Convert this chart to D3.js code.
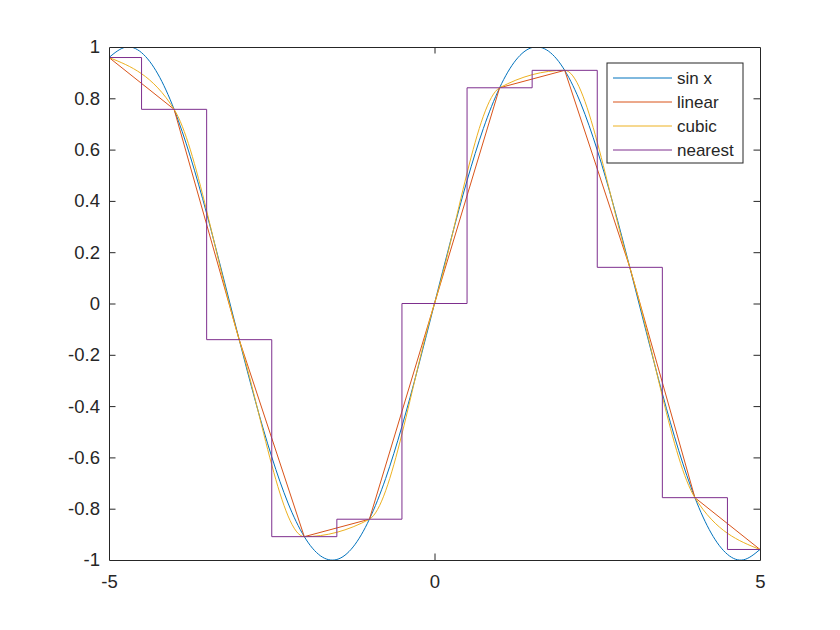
<!DOCTYPE html>
<html>
<head>
<meta charset="utf-8">
<script src="https://cdn.jsdelivr.net/npm/d3@7"></script>
<style>
  body { margin: 0; background: #fff; }
  svg { display: block; font-family: "Liberation Sans", Arial, sans-serif; }
</style>
</head>
<body>
<div class="container"></div>
<script>
// sample points (integer x)
var xs = [-5, -4, -3, -2, -1, 0, 1, 2, 3, 4, 5];
var ys = [0.959, 0.757, -0.141, -0.909, -0.841, 0, 0.841, 0.909, 0.141, -0.757, -0.959];

// the smooth "sin x" curve, read at quarter steps
var fineX = [-5, -4.75, -4.5, -4.25, -4, -3.75, -3.5, -3.25, -3, -2.75, -2.5, -2.25, -2, -1.75, -1.5, -1.25, -1, -0.75, -0.5, -0.25,
             0, 0.25, 0.5, 0.75, 1, 1.25, 1.5, 1.75, 2, 2.25, 2.5, 2.75, 3, 3.25, 3.5, 3.75, 4, 4.25, 4.5, 4.75, 5];
var fineY = [0.959, 0.999, 0.978, 0.895, 0.757, 0.572, 0.351, 0.108, -0.141, -0.382, -0.598, -0.778, -0.909, -0.984, -0.998, -0.949, -0.841, -0.682, -0.479, -0.247,
             0, 0.247, 0.479, 0.682, 0.841, 0.949, 0.998, 0.984, 0.909, 0.778, 0.598, 0.382, 0.141, -0.108, -0.351, -0.572, -0.757, -0.895, -0.978, -0.999, -0.959];

var xTicks = [-5, 0, 5];
var yTicks = [-1, -0.8, -0.6, -0.4, -0.2, 0, 0.2, 0.4, 0.6, 0.8, 1];
var names = ["sin x", "linear", "cubic", "nearest"];
var colors = ["#0072BD", "#D95319", "#EDB120", "#7E2F8E"];

var width = 840, height = 630;
var margin = {top: 47, right: 80, bottom: 70, left: 109};
var iw = width - margin.left - margin.right,
    ih = height - margin.top - margin.bottom,
    tk = 6.5,
    axc = "#262626";

var x = d3.scaleLinear().domain([-5, 5]).range([0, iw]);
var y = d3.scaleLinear().domain([-1, 1]).range([ih, 0]);

var svg = d3.select(".container").append("svg")
    .attr("width", width)
    .attr("height", height);

var g = svg.append("g")
    .attr("transform", "translate(" + margin.left + "," + margin.top + ")");

svg.append("clipPath").attr("id", "clip")
  .append("rect").attr("width", iw).attr("height", ih);

var plot = g.append("g").attr("clip-path", "url(#clip)");

var pts = xs.map(function(d, i) { return [d, ys[i]]; });
var fine = fineX.map(function(d, i) { return [d, fineY[i]]; });

function line(curve) {
  return d3.line().x(function(d) { return x(d[0]); }).y(function(d) { return y(d[1]); }).curve(curve);
}

var series = [
  {data: fine, curve: d3.curveNatural},
  {data: pts, curve: d3.curveLinear},
  {data: pts, curve: d3.curveMonotoneX},
  {data: pts, curve: d3.curveStep}
];

plot.selectAll("path.s").data(series).enter().append("path")
    .attr("class", "s")
    .attr("fill", "none")
    .attr("stroke", function(d, i) { return colors[i]; })
    .attr("stroke-width", 1)
    .attr("d", function(d) { return line(d.curve)(d.data); });

// axes: ticks point inward, box on
var fmt = function(d) { return d < 0 ? "-" + d3.format("")(-d) : d3.format("")(d); };
var xb = g.append("g").attr("transform", "translate(0," + ih + ")")
    .call(d3.axisBottom(x).tickValues(xTicks).tickSizeInner(-tk).tickSizeOuter(0).tickPadding(15).tickFormat(fmt));
var xt = g.append("g")
    .call(d3.axisTop(x).tickValues(xTicks).tickSizeInner(-tk).tickSizeOuter(0).tickFormat(""));
var yl = g.append("g")
    .call(d3.axisLeft(y).tickValues(yTicks).tickSizeInner(-tk).tickSizeOuter(0).tickPadding(9).tickFormat(fmt));
var yr = g.append("g").attr("transform", "translate(" + iw + ",0)")
    .call(d3.axisRight(y).tickValues(yTicks).tickSizeInner(-tk).tickSizeOuter(0).tickFormat(""));

[xb, xt, yl, yr].forEach(function(a) {
  a.select(".domain").attr("stroke", axc);
  a.selectAll(".tick line").attr("stroke", axc);
  a.selectAll(".tick text").attr("fill", axc).style("font-size", "18.5px");
});
// hide end ticks that sit on the frame
xb.selectAll(".tick line").filter(function(d) { return d === -5 || d === 5; }).remove();
xt.selectAll(".tick line").filter(function(d) { return d === -5 || d === 5; }).remove();
yl.selectAll(".tick line").filter(function(d) { return d === -1 || d === 1; }).remove();
yr.selectAll(".tick line").filter(function(d) { return d === -1 || d === 1; }).remove();

// legend
var lg = g.append("g").attr("transform", "translate(" + (iw - 153) + ",16)");
lg.append("rect")
    .attr("width", 136).attr("height", 100)
    .attr("fill", "#fff").attr("stroke", axc).attr("stroke-width", 1);
var row = lg.selectAll("g.row").data(names).enter().append("g")
    .attr("class", "row")
    .attr("transform", function(d, i) { return "translate(0," + (15 + i * 24) + ")"; });
row.append("line")
    .attr("x1", 6).attr("x2", 65)
    .attr("stroke", function(d, i) { return colors[i]; })
    .attr("stroke-width", 1);
row.append("text")
    .attr("x", 70).attr("dy", "0.35em")
    .attr("fill", axc)
    .style("font-size", "17px")
    .text(function(d) { return d; });
</script>
</body>
</html>
